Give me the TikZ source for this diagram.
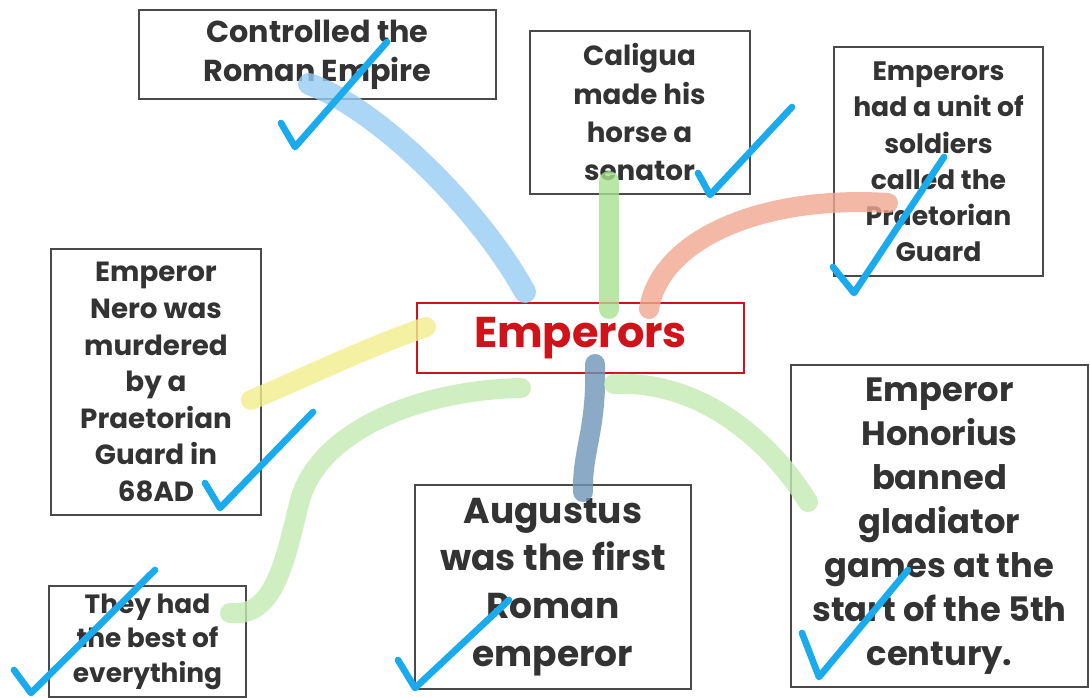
\documentclass[tikz,border=0pt]{standalone}
\usepackage{fontspec}
\setmainfont{Poppins}
\definecolor{boxline}{HTML}{4A4A4A}
\definecolor{inkgray}{HTML}{333333}
\definecolor{empred}{HTML}{D0121B}
\definecolor{skyblue}{HTML}{98CCF4}
\definecolor{leafgreen}{HTML}{A8E28F}
\definecolor{paleleaf}{HTML}{C4EAB2}
\definecolor{salmon}{HTML}{F0A890}
\definecolor{lemon}{HTML}{F2EE8C}
\definecolor{steel}{HTML}{6F95B8}
\definecolor{tickblue}{HTML}{1AABEF}
\begin{document}
\begin{tikzpicture}[x=0.75pt,y=-0.75pt,
	fact/.style={draw=boxline,line width=1.5pt,text=inkgray,align=center,inner sep=0pt,
		font=\fontsize{20.8}{27.4}\selectfont\bfseries},
	bigfact/.style={fact,font=\fontsize{27}{35.8}\selectfont\bfseries},
	hub/.style={draw=empred,line width=1.5pt,text=empred,inner sep=0pt,
		font=\fontsize{32.3}{36}\selectfont\bfseries},
	stroke/.style={line width=15pt,line cap=round,opacity=0.8},
	tick/.style={draw=tickblue,line width=5pt,line cap=round,line join=round}]
	\useasboundingbox[fill=white](0,0) rectangle (1090,698);
	\node[fact,minimum width=267.75pt,minimum height=66.75pt,font=\fontsize{22.7}{29.25}\selectfont\bfseries] (ctrl) at (317.5,54.5) {Controlled the\\Roman Empire};
	\node[fact,minimum width=165pt,minimum height=122.25pt,font=\fontsize{20.8}{28.75}\selectfont\bfseries] (horse) at (639.5,112.5) {Caligua\\made his\\horse a\\senator};
	\node[fact,minimum width=156.75pt,minimum height=171.75pt,font=\fontsize{20}{27.2}\selectfont\bfseries] (guard) at (938.5,162) {Emperors\\had a unit of\\soldiers\\called the\\Praetorian\\Guard};
	\node[fact,minimum width=157.5pt,minimum height=199.5pt] (nero) at (156,382) {Emperor\\Nero was\\murdered\\by a\\Praetorian\\Guard in\\68AD};
	\node[hub,minimum width=245.25pt,minimum height=52.5pt] (emp) at (580.5,338) {Emperors};
	\node[bigfact,minimum width=207pt,minimum height=153pt] (aug) at (553,587) {Augustus\\was the first\\Roman\\emperor};
	\node[bigfact,minimum width=222.75pt,minimum height=241.5pt,font=\fontsize{25.3}{33}\selectfont\bfseries] (hon) at (939.5,526) {Emperor\\Honorius\\banned\\gladiator\\games at the\\start of the 5th\\century.};
	\node[fact,minimum width=147.75pt,minimum height=83.25pt,font=\fontsize{19.8}{25.9}\selectfont\bfseries] (best) at (147.5,641.5) {They had\\the best of\\everything};
	\draw[stroke,skyblue,line width=16.5pt]([shift={(-8.5,-16)}]ctrl.south) .. controls (380,110) and (480,210) .. ([shift={(109,-10)}]emp.north west);
	\draw[stroke,leafgreen]([shift={(-30.5,-14)}]horse.south) -- ([shift={(28.5,7)}]emp.north);
	\draw[stroke,salmon]([shift={(-96,7)}]emp.north east) .. controls (660,240) and (760,195) .. ([shift={(55,41)}]guard.west);
	\draw[stroke,lemon]([shift={(10,-11)}]emp.west) .. controls (360,350) and (300,380) .. ([shift={(-11,18)}]nero.east);
	\draw[stroke,paleleaf]([shift={(-59.5,14)}]emp.south) .. controls (420,390) and (320,430) .. (300,500) .. controls (285,560) and (275,618) .. ([shift={(-17,-28.5)}]best.east);
	\draw[stroke,steel]([shift={(14.5,-10)}]emp.south) .. controls (597,430) and (582,450) .. ([shift={(30,8)}]aug.north);
	\draw[stroke,paleleaf]([shift={(33.5,10)}]emp.south) .. controls (700,380) and (770,440) .. ([shift={(18,138)}]hon.north west);
	\draw[tick](281,123) -- (295,147) -- (387,42);
	\draw[tick](698,173) -- (710,195) -- (792,107);
	\draw[tick](833,267) -- (854,293) -- (944,157);
	\draw[tick](205,483) -- (220,508) -- (313,412);
	\draw[tick](14,670) -- (31,693) -- (155,570);
	\draw[tick](398,660) -- (415,688) -- (509,600);
	\draw[tick](802,633) -- (819,677) -- (908,570);
\end{tikzpicture}
\end{document}
